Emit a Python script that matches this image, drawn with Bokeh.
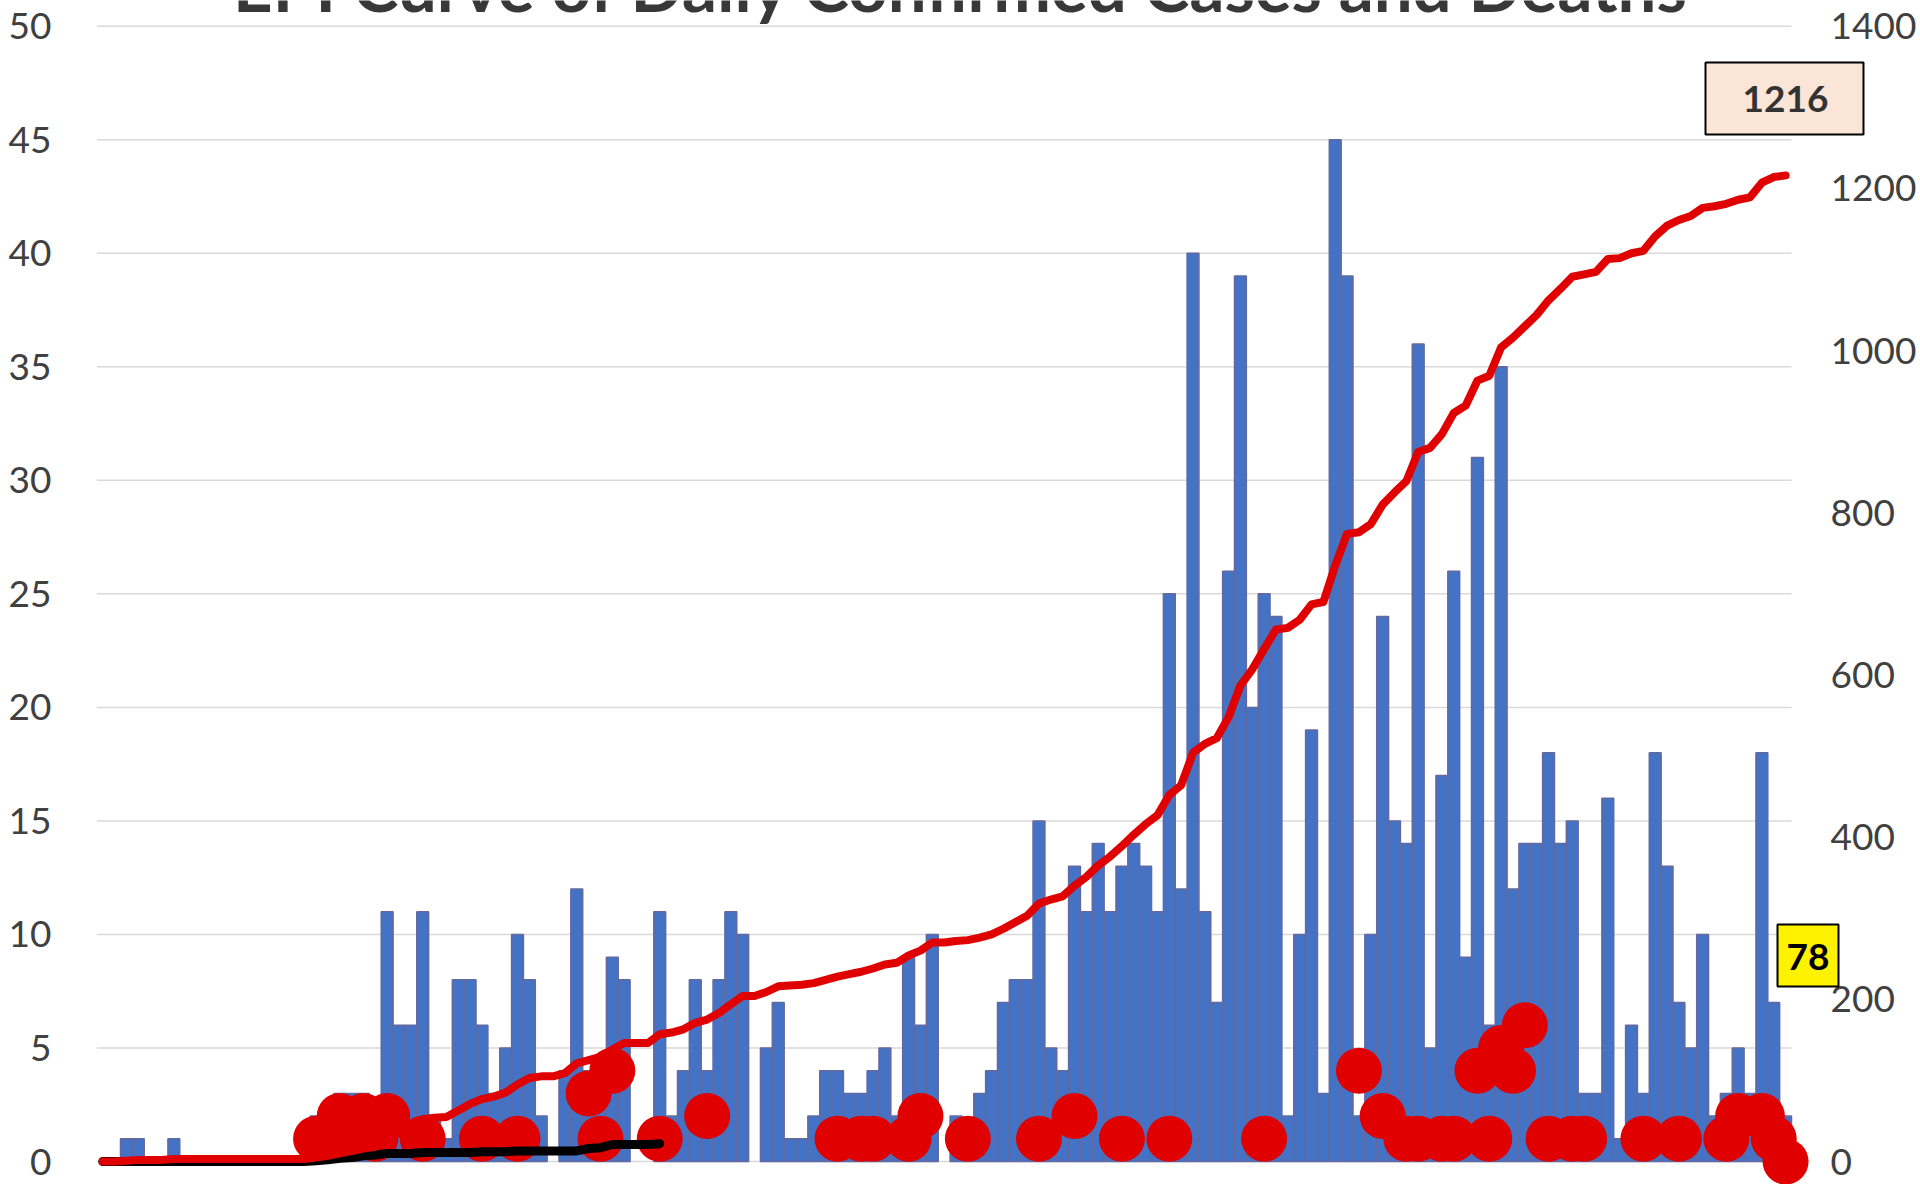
from bokeh.plotting import figure
from bokeh.models import (Range1d, LinearAxis, FixedTicker, ColumnDataSource,
                          Label, BoxAnnotation)
from bokeh.embed import file_html
from bokeh.resources import INLINE

# ---------------- data ----------------
title_text = "EPI Curve of Daily Confirmed Cases and Deaths"

# daily confirmed cases, one value per day (left axis)
daily_cases = [
    0, 0, 1, 1, 0, 0, 1, 0, 0, 0,
    0, 0, 0, 0, 0, 0, 0, 0, 2, 2,
    3, 3, 3, 2, 11, 6, 6, 11, 2, 1,
    8, 8, 6, 3, 5, 10, 8, 2, 0, 4,
    12, 4, 4, 9, 8, 0, 0, 11, 2, 4,
    8, 4, 8, 11, 10, 0, 5, 7, 1, 1,
    2, 4, 4, 3, 3, 4, 5, 2, 9, 6,
    10, 0, 2, 1, 3, 4, 7, 8, 8, 15,
    5, 4, 13, 11, 14, 11, 13, 14, 13, 11,
    25, 12, 40, 11, 7, 26, 39, 20, 25, 24,
    2, 10, 19, 3, 45, 39, 2, 10, 24, 15,
    14, 36, 5, 17, 26, 9, 31, 6, 35, 12,
    14, 14, 18, 14, 15, 3, 3, 16, 1, 6,
    3, 18, 13, 7, 5, 10, 2, 3, 5, 3,
    18, 7, 2,
]

# daily deaths (left axis); None = no marker on that day
N = None
daily_deaths = [
    N, N, N, N, N, N, N, N, N, N,
    N, N, N, N, N, N, N, N, 1, 1,
    2, 1, 2, 1, 2, N, N, 1, N, N,
    N, N, 1, N, N, 1, N, N, N, N,
    N, 3, 1, 4, N, N, N, 1, N, N,
    N, 2, N, N, N, N, N, N, N, N,
    N, N, 1, N, 1, 1, N, N, 1, 2,
    N, N, N, 1, N, N, N, N, N, 1,
    N, N, 2, N, N, N, 1, N, N, N,
    1, N, N, N, N, N, N, N, 1, N,
    N, N, N, N, N, N, 4, N, 2, N,
    1, 1, N, 1, 1, N, 4, 1, 5, 4,
    6, N, 1, N, 1, 1, N, N, N, N,
    1, N, N, 1, N, N, N, 1, 2, N,
    2, 1, 0,
]

# the cumulative-deaths line (black) was only reported up to this day index
deaths_line_last_day = 47

left_ticks = [0, 5, 10, 15, 20, 25, 30, 35, 40, 45, 50]
right_ticks = [0, 200, 400, 600, 800, 1000, 1200, 1400]
left_max = 50
right_max = 1400

total_cases_label = "1216"
total_deaths_label = "78"

# ---------------- derived series ----------------
n_days = len(daily_cases)
days = list(range(n_days))

cum_cases = []
running = 0
for v in daily_cases:
    running += v
    cum_cases.append(running)

cum_deaths = []
running = 0
for v in daily_deaths[:deaths_line_last_day + 1]:
    running += (v or 0)
    cum_deaths.append(running)

bar_src = ColumnDataSource(dict(
    day=[d for d, v in zip(days, daily_cases) if v > 0],
    cases=[v for v in daily_cases if v > 0],
))
dot_src = ColumnDataSource(dict(
    day=[d for d, v in zip(days, daily_deaths) if v is not None],
    deaths=[v for v in daily_deaths if v is not None],
))
cum_src = ColumnDataSource(dict(day=days, cum=cum_cases))
cumd_src = ColumnDataSource(dict(day=days[:deaths_line_last_day + 1], cum=cum_deaths))
grid_src = ColumnDataSource(dict(
    x0=[-0.5] * len(left_ticks), x1=[n_days - 0.5] * len(left_ticks),
    y=left_ticks,
))

# ---------------- layout (pixels) ----------------
W, H = 1920, 1184
PLOT_L, PLOT_R = 96.3, 1791.0      # category band, px
Y_TOP, Y_ZERO = 25.7, 1161.0       # px of left value 50 and of 0
FRAME_L = 96
pitch = (PLOT_R - PLOT_L) / n_days
ppu = (Y_ZERO - Y_TOP) / left_max
r2l = right_max / left_max


def xd(px):
    return -0.5 + (px - PLOT_L) / pitch


def yd(py):
    return (Y_ZERO - py) / ppu


RED = "#E00000"
BLUE = "#4472C4"
BAR_EDGE = "#63699F"
GRID = "#D9D9D9"
TEXT = "#404040"
FONT = "Lato"

p = figure(width=W, height=H, output_backend="svg", toolbar_location=None,
           title=None,
           x_range=Range1d(xd(FRAME_L), xd(W)), y_range=Range1d(yd(H), yd(0)),
           min_border_left=FRAME_L, min_border_right=0,
           min_border_top=0, min_border_bottom=0,
           outline_line_color=None)
p.extra_y_ranges = {"right": Range1d(yd(H) * r2l, yd(0) * r2l)}

# left axis
p.yaxis.ticker = FixedTicker(ticks=left_ticks)
p.yaxis.axis_line_color = None
p.yaxis.major_tick_line_color = None
p.yaxis.minor_tick_line_color = None
p.yaxis.major_tick_out = 0
p.yaxis.major_tick_in = 0
p.yaxis.minor_tick_out = 0
p.yaxis.major_label_text_font = FONT
p.yaxis.major_label_text_font_size = "37px"
p.yaxis.major_label_text_color = TEXT
p.yaxis.major_label_standoff = 45

# right axis, drawn at the right end of the category band
ax_r = LinearAxis(y_range_name="right", ticker=FixedTicker(ticks=right_ticks),
                  fixed_location=n_days - 0.5)
ax_r.axis_line_color = None
ax_r.major_tick_line_color = None
ax_r.minor_tick_line_color = None
ax_r.major_tick_out = 0
ax_r.major_tick_in = 0
ax_r.minor_tick_out = 0
ax_r.major_label_text_font = FONT
ax_r.major_label_text_font_size = "37px"
ax_r.major_label_text_color = TEXT
ax_r.major_label_standoff = 39
p.add_layout(ax_r, "right")

p.xaxis.visible = False
p.xgrid.visible = False
p.ygrid.visible = False

# horizontal gridlines limited to the category band
p.segment(x0="x0", x1="x1", y0="y", y1="y", source=grid_src,
          line_color=GRID, line_width=1.5)

# bars: daily cases
p.vbar(x="day", top="cases", width=1.0, source=bar_src,
       fill_color=BLUE, line_color=BAR_EDGE, line_width=1.5)

# dots: daily deaths
p.scatter(x="day", y="deaths", source=dot_src, size=46,
          fill_color=RED, line_color=None)

# black line: cumulative deaths (right axis)
p.line(x="day", y="cum", source=cumd_src, y_range_name="right",
       line_color="black", line_width=9, line_join="round", line_cap="round")

# red line: cumulative cases (right axis)
p.line(x="day", y="cum", source=cum_src, y_range_name="right",
       line_color=RED, line_width=8, line_join="round", line_cap="round")

# title (its top is cut off, as in the reference)
p.add_layout(Label(x=xd(961), y=yd(-15), text=title_text, text_align="center",
                   text_baseline="middle", text_font=FONT,
                   text_font_style="bold", text_font_size="69px",
                   text_color="#383838"))

# total cases box
p.add_layout(BoxAnnotation(left=xd(1705), right=xd(1863), top=yd(62), bottom=yd(134),
                           fill_color="#FBE5D6", fill_alpha=1.0,
                           line_color="black", line_width=2, line_alpha=1.0))
p.add_layout(Label(x=xd(1785), y=yd(98), text=total_cases_label, text_align="center",
                   text_baseline="middle", text_font=FONT, text_font_style="bold",
                   text_font_size="37px", text_color="#333333"))

# total deaths box
p.add_layout(BoxAnnotation(left=xd(1777), right=xd(1838), top=yd(924), bottom=yd(986),
                           fill_color="#FFF200", fill_alpha=1.0,
                           line_color="black", line_width=2, line_alpha=1.0))
p.add_layout(Label(x=xd(1807.5), y=yd(956), text=total_deaths_label, text_align="center",
                   text_baseline="middle", text_font=FONT, text_font_style="bold",
                   text_font_size="37px", text_color="black"))

open("out.html", "w").write(file_html(p, INLINE))
